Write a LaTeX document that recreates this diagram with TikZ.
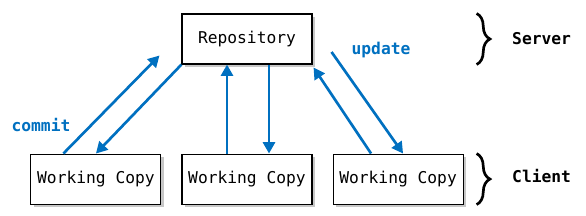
\documentclass[tikz,border=0pt]{standalone}
\usepackage{fontspec}
\setmonofont{DejaVu Sans Mono}
\usepackage{xcolor}
\usepackage{tikz}
\usetikzlibrary{positioning,arrows.meta,calc,shadows,decorations.pathreplacing}
\definecolor{flow}{HTML}{0070C0}
\tikzset{
  box/.style={rectangle,draw=black,line width=0.8pt,fill=white,
    minimum width=97.5pt,minimum height=37.5pt,font=\ttfamily\fontsize{12.2}{14}\selectfont,
    drop shadow={shadow xshift=2pt,shadow yshift=-2pt,opacity=0.22,fill=black}},
  fl/.style={-{Triangle[length=8.5pt,width=9pt]},draw=flow,line width=2pt},
  act/.style={text=flow,font=\ttfamily\bfseries\fontsize{12.2}{14}\selectfont},
  tag/.style={font=\ttfamily\bfseries\fontsize{12.2}{14}\selectfont},
  brc/.style={decorate,decoration={brace,amplitude=10pt},line width=2pt},
}

\begin{document}
\begin{tikzpicture}[x=0.75pt,y=-0.75pt,node distance=66.75pt and 15pt]
  \useasboundingbox (0,0) rectangle (586,216);
  \node[box] (repo) at (247,39) {Repository};
  \node[box,below=of repo] (wcB) {Working Copy};
  \node[box,left=of wcB] (wcA) {Working Copy};
  \node[box,right=of wcB] (wcC) {Working Copy};
  % free ends near the repository
  \coordinate (tipA) at ($(repo.south west)+(-22,-9)$);
  \coordinate (tailC) at ($(repo.east)+(19,13)$);
  \draw[fl] ($(wcA.north west)+(33,0)$)--(tipA);
  \draw[fl] (repo.south west)--(wcA.north);
  \draw[fl] ($(wcB.north)+(-20,0)$)--($(repo.south)+(-20,0)$);
  \draw[fl] ($(repo.south)+(22,0)$)--($(wcB.north)+(22,0)$);
  \draw[fl] ($(wcC.north)+(-27,0)$)--($(repo.south east)+(1,3)$);
  \draw[fl] (tailC)--($(wcC.north)+(5,0)$);
  \node[act] (commit) at (41,125) {commit};
  \node[act] (update) at (381,50) {update};
  % tiers
  \draw[brc] ($(repo.north -| wcC.east)+(13,0)$)--($(repo.south -| wcC.east)+(13,0)$);
  \draw[brc] ($(wcC.north east)+(13,0)$)--($(wcC.south east)+(13,0)$);
  \node[tag] (server) at ($(repo.east -| wcC.east)+(78,0)$) {Server};
  \node[tag] (client) at ($(wcC.east)+(78,-3)$) {Client};
\end{tikzpicture}
\end{document}
